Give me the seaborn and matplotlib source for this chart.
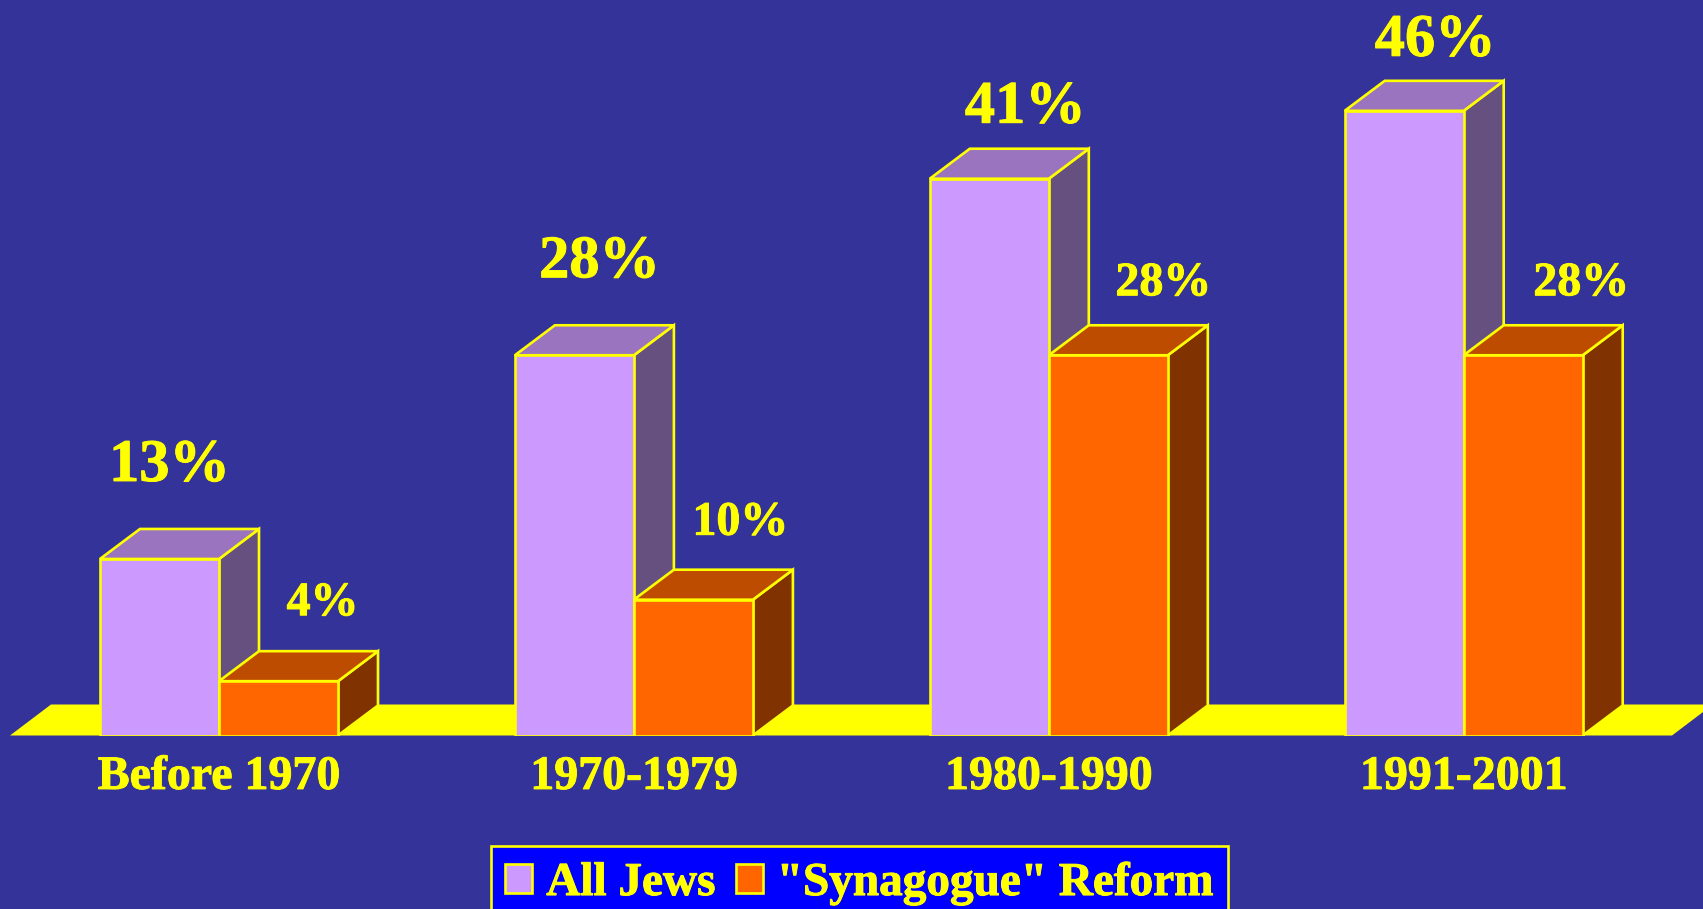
import pandas as pd
import matplotlib
matplotlib.use("Agg")
import matplotlib.pyplot as plt
import matplotlib.patheffects as pe
import seaborn as sns
from matplotlib.patches import Polygon

# Data
periods = ["Before 1970", "1970-1979", "1980-1990", "1991-2001"]
all_jews = [13, 28, 41, 46]
synagogue_reform = [4, 10, 28, 28]
series_names = ["All Jews", '"Synagogue" Reform']

# Colours
BG = "#333399"
YELLOW = "#FFFF00"
front_colors = ["#CC99FF", "#FF6600"]
top_colors = ["#9A74BE", "#BD4C00"]
side_colors = ["#66507F", "#803300"]

# Scale of the picture, in pixels
W, H = 1703, 909
BASE_Y = 735.5
PX_PER_GROUP = 414.9
PX_PER_UNIT = 13.58
X0 = 219
DEPTH_X = 40 / PX_PER_GROUP
DEPTH_Y = 30 / PX_PER_UNIT
LW = 1.9

# Hand placed value labels: offset from top centre of the bar, in pixels
label_dx = [[10, 25, 36, 31], [44, 47, 55, 58]]
label_dy = [[78, 78, 56, 55], [66, 65, 60, 60]]
label_size = [43.5, 34.5]

# Text in the reference is heavier than the font's bold
heavy = [pe.withStroke(linewidth=0.7, foreground=YELLOW)]

sns.set_style("white")
plt.rcParams["font.family"] = ["Liberation Serif", "DejaVu Serif"]
plt.rcParams["font.weight"] = "bold"

df = pd.DataFrame({
    "period": periods * 2,
    "share": all_jews + synagogue_reform,
    "series": [series_names[0]] * 4 + [series_names[1]] * 4,
})

fig = plt.figure(figsize=(W / 100, H / 100), dpi=100, facecolor=BG)
ax = fig.add_axes([0, 1 - BASE_Y / H, 1, BASE_Y / H], facecolor=BG)

sns.barplot(data=df, x="period", y="share", hue="series", hue_order=series_names,
            palette=front_colors, saturation=1, width=238 / PX_PER_GROUP, gap=0,
            edgecolor=YELLOW, linewidth=LW, ax=ax, zorder=2)

ax.set_xlim(-X0 / PX_PER_GROUP, (W - X0) / PX_PER_GROUP)
ax.set_ylim(0, BASE_Y / PX_PER_UNIT)
sns.despine(ax=ax, left=True, bottom=True)
ax.set_xlabel("")
ax.set_ylabel("")
ax.set_yticks([])
ax.tick_params(axis="x", length=0, pad=14, colors=YELLOW, labelsize=34.5)
for tick in ax.get_xticklabels():
    tick.set_path_effects(heavy)

# Yellow floor
fx0 = (10 - X0) / PX_PER_GROUP
fx1 = (1672 - X0) / PX_PER_GROUP
fdx = 41 / PX_PER_GROUP
fdy = 31 / PX_PER_UNIT
ax.add_patch(Polygon([(fx0, 0), (fx1, 0), (fx1 + fdx, fdy), (fx0 + fdx, fdy)],
                     facecolor=YELLOW, edgecolor="none", zorder=1))

# 3D faces on each bar
for s, container in enumerate(ax.containers):
    for b, bar in enumerate(container):
        x0, x1 = bar.get_x(), bar.get_x() + bar.get_width()
        h = bar.get_height()
        z = 1.5 + s * 2
        ax.add_patch(Polygon([(x1, 0), (x1 + DEPTH_X, DEPTH_Y), (x1 + DEPTH_X, h + DEPTH_Y), (x1, h)],
                             facecolor=side_colors[s], edgecolor=YELLOW, linewidth=LW, zorder=z))
        ax.add_patch(Polygon([(x0, h), (x1, h), (x1 + DEPTH_X, h + DEPTH_Y), (x0 + DEPTH_X, h + DEPTH_Y)],
                             facecolor=top_colors[s], edgecolor=YELLOW, linewidth=LW, zorder=z))
        bar.set_zorder(z + 0.5)
        ax.annotate(f"{h:.0f}%", xy=((x0 + x1) / 2, h), xytext=(label_dx[s][b], label_dy[s][b]),
                    textcoords="offset pixels", ha="center", va="baseline",
                    color=YELLOW, fontsize=label_size[s], fontweight="bold",
                    annotation_clip=False, zorder=6, path_effects=heavy)

# Legend runs off the bottom of the picture, the blank title only pushes the row down
leg = ax.legend(loc="upper left", bbox_to_anchor=(491 / W, 1 - 846 / H),
                bbox_transform=fig.transFigure, ncol=2, fontsize=34, frameon=True,
                fancybox=False, framealpha=1, facecolor="#0000FF", edgecolor=YELLOW,
                borderaxespad=0, borderpad=0.3, handlelength=0.57, handleheight=0.57,
                handletextpad=0.3, columnspacing=0.43, labelspacing=0.04,
                title=" ", title_fontsize=1)
leg.get_frame().set_linewidth(LW)
for text in leg.get_texts():
    text.set_color(YELLOW)
    text.set_path_effects(heavy)

fig.savefig("out.png", dpi=100, facecolor=BG)
